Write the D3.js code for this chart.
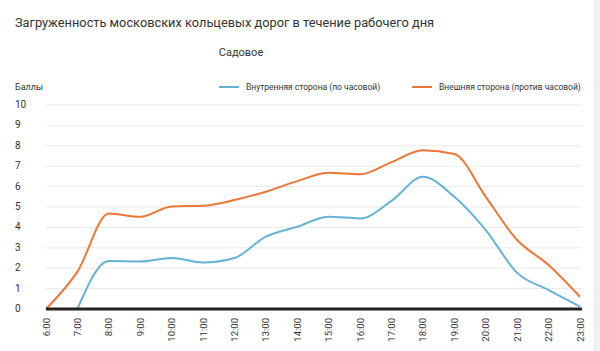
<!DOCTYPE html>
<html>
<head>
<meta charset="utf-8">
<script src="https://cdn.jsdelivr.net/npm/d3@7"></script>
<style>
    body { margin: 0; background: #fff; }
    text { font-family: Roboto, "Noto Sans", sans-serif; fill: #333; }
</style>
</head>
<body>
<div id="chart"></div>
<script>
const hours = ["6:00", "7:00", "8:00", "9:00", "10:00", "11:00", "12:00", "13:00", "14:00",
    "15:00", "16:00", "17:00", "18:00", "19:00", "20:00", "21:00", "22:00", "23:00"];
const inner = [null, 0, 2.35, 2.33, 2.5, 2.28, 2.5, 3.55, 4.03, 4.52, 4.44, 5.3, 6.48, 5.5, 3.87, 1.77, 0.93, 0.12];
const outer = [0, 1.83, 4.68, 4.52, 5.03, 5.06, 5.34, 5.75, 6.27, 6.68, 6.6, 7.2, 7.78, 7.6, 5.5, 3.38, 2.16, 0.6];
const yTicks = [0, 1, 2, 3, 4, 5, 6, 7, 8, 9, 10];
const seriesNames = ["Внутренняя сторона (по часовой)", "Внешняя сторона (против часовой)"];
const colors = ["#65b3d4", "#eb7637"];

const W = 600, H = 351;
const margin = { top: 105, right: 18, bottom: 42, left: 46 };
const width = W - margin.left - margin.right,
    height = H - margin.top - margin.bottom;

const svg = d3.select("#chart").append("svg")
    .attr("width", W)
    .attr("height", H);

// light strip on the right edge
svg.append("rect")
    .attr("x", 593).attr("y", 0)
    .attr("width", 7).attr("height", H)
    .attr("fill", "#f1f1f1");

svg.append("text")
    .attr("x", 15).attr("y", 27)
    .attr("font-size", "12.8px")
    .text("Загруженность московских кольцевых дорог в течение рабочего дня");

svg.append("text")
    .attr("x", 241).attr("y", 56)
    .attr("text-anchor", "middle")
    .attr("font-size", "11px")
    .text("Садовое");

svg.append("text")
    .attr("x", 15).attr("y", 90)
    .attr("font-size", "9px")
    .text("Баллы");

const g = svg.append("g")
    .attr("transform", "translate(" + margin.left + "," + margin.top + ")");

const x = d3.scalePoint()
    .domain(hours)
    .range([0, width - 2]);

const y = d3.scaleLinear()
    .domain([0, 10])
    .range([height, 0]);

// grid
g.selectAll(".grid")
    .data(yTicks.filter(d => d > 0))
    .enter().append("line")
    .attr("class", "grid")
    .attr("x1", 0).attr("x2", width)
    .attr("y1", d => y(d)).attr("y2", d => y(d))
    .attr("stroke", "#e8e8e8")
    .attr("stroke-width", 1);

// y labels
g.selectAll(".ylab")
    .data(yTicks)
    .enter().append("text")
    .attr("class", "ylab")
    .attr("x", -31)
    .attr("y", d => y(d) + 3)
    .attr("font-size", "10px")
    .text(d => d);

// x labels
const xAxis = g.append("g")
    .attr("transform", "translate(0," + height + ")");
xAxis.selectAll("text")
    .data(hours)
    .enter().append("text")
    .attr("transform", d => "translate(" + (x(d) + 3.5) + ",9) rotate(-90)")
    .attr("text-anchor", "end")
    .attr("font-size", "9.5px")
    .text(d => d);

const line = d3.line()
    .defined(d => d.v !== null)
    .x(d => x(d.h))
    .y(d => y(d.v))
    .curve(d3.curveMonotoneX);

[inner, outer].forEach((arr, i) => {
    g.append("path")
        .datum(arr.map((v, j) => ({ h: hours[j], v: v })))
        .attr("fill", "none")
        .attr("stroke", colors[i])
        .attr("stroke-width", 2)
        .attr("d", line);
});

// baseline
g.append("line")
    .attr("x1", 0).attr("x2", width)
    .attr("y1", height).attr("y2", height)
    .attr("stroke", "#222")
    .attr("stroke-width", 3);

// legend
const legendX = [219, 412];
seriesNames.forEach((name, i) => {
    svg.append("line")
        .attr("x1", legendX[i]).attr("x2", legendX[i] + 20)
        .attr("y1", 87).attr("y2", 87)
        .attr("stroke", colors[i])
        .attr("stroke-width", 2);
    svg.append("text")
        .attr("x", legendX[i] + 27)
        .attr("y", 90)
        .attr("font-size", "8.5px")
        .text(name);
});
</script>
</body>
</html>
